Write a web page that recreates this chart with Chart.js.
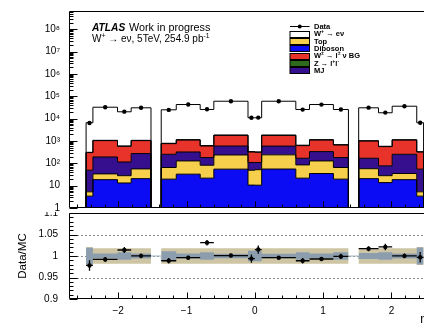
<!DOCTYPE html>
<html>
<head>
<meta charset="utf-8">
<title>W+ to e nu, electron eta</title>
<script src="https://cdn.jsdelivr.net/npm/chart.js@4.4.1/dist/chart.umd.min.js"></script>
<style>
  html, body { margin: 0; padding: 0; background: #fff; }
  #wrap { position: relative; width: 424px; height: 330px; overflow: hidden; background: #fff; }
  #mainChart { position: absolute; left: 0; top: 0; z-index: 2; background: #fff; }
  #ratioChart { position: absolute; left: 0; top: 204px; z-index: 1; }
</style>
</head>
<body>
<div id="wrap">
  <canvas id="ratioChart" width="432" height="126"></canvas>
  <canvas id="mainChart" width="432" height="212"></canvas>
</div>
<script>
// electron eta bins, the 1.37 < |eta| < 1.52 crack is left empty
const binEdges = [-2.47, -2.37, -2.01, -1.81, -1.52, -1.37, -1.15, -0.8, -0.6, -0.1, 0,
                  0.1, 0.6, 0.8, 1.15, 1.37, 1.52, 1.81, 2.01, 2.37, 2.47];

// expected events per bin, one array per process
const diboson  = [3.4, 18.6, 13.2, 20.6, 0, 19.6, 32.7, 21.7, 55, 10.6, 10.5, 55.5, 21.7, 35, 19.6, 0, 20.6, 13.7, 18.6, 3.4];
const topBkg   = [1.9, 15.1, 14.8, 35.7, 0, 45.4, 95.3, 60.3, 182, 38.4, 41.5, 184.5, 63.3, 93, 45.4, 0, 36.9, 14.3, 16.4, 1.9];
const multijet = [44, 159, 87, 217, 0, 189, 194, 99, 359, 60, 57, 350, 84, 207, 116, 0, 111.5, 49, 219, 49.7];
const wlnuBkg  = [254, 844, 463, 764, 0, 508, 780, 415, 1190, 213, 203, 1190, 452, 767, 479, 0, 826, 483, 848, 267];
const zll      = [8, 35, 20, 33, 0, 27, 46, 27, 64, 12, 12, 64, 27, 46, 27, 0, 33, 20, 37, 8];
const wenu     = [6249, 31448, 19682, 29540, 0, 24111, 41782, 25077, 58400, 10636, 10646, 58406, 25052, 41782, 25013, 0, 29582, 17740, 34901, 6230];

// observed events
const dataCounts = [6416, 32260, 20564, 30620, 0, 24626, 42758, 26497, 60310, 10904, 11135, 60009, 25417, 42630, 25674, 0, 31130, 18705, 36050, 6540];

// relative MC uncertainties: statistical, and total
const mcStatErr = [0.019, 0.006, 0.009, 0.006, 0, 0.011, 0.006, 0.009, 0.005, 0.012, 0.012, 0.005, 0.009, 0.006, 0.009, 0, 0.007, 0.009, 0.006, 0.02];
const mcTotErr  = [0.021, 0.018, 0.018, 0.018, 0, 0.018, 0.018, 0.018, 0.018, 0.018, 0.018, 0.018, 0.018, 0.018, 0.018, 0, 0.018, 0.018, 0.018, 0.021];

const mainTicks  = [1, 10, 100, 1e3, 1e4, 1e5, 1e6, 1e7, 1e8];
const ratioTicks = [0.9, 0.95, 1, 1.05, 1.1];
const etaTicks   = [-2, -1, 0, 1, 2];

const FONT = "'Liberation Sans', Arial, Helvetica, sans-serif";
Chart.defaults.font.family = FONT;
Chart.defaults.color = '#000';

const xMin = -2.72, xMax = 2.52;
const yMin = 1, yMax = 6.6e8;
const nBins = binEdges.length - 1;
const centers = binEdges.slice(0, -1).map((e, i) => (e + binEdges[i + 1]) / 2);

// bottom of the stack first
const stack = [
  { label: 'Diboson', values: diboson, colour: '#0b0bf4' },
  { label: 'Top', values: topBkg, colour: '#f6cf4d' },
  { label: 'MJ', values: multijet, colour: '#360f8f' },
  { label: 'W^{±} → l^{±} ν BG', values: wlnuBkg, colour: '#e8332a' },
  { label: 'Z → l^{+}l^{-}', values: zll, colour: '#2e6a1c' },
  { label: 'W^{+} → eν', values: wenu, colour: '#ffffff' }
];
const legendOrder = ['W^{+} → eν', 'Top', 'Diboson', 'W^{±} → l^{±} ν BG', 'Z → l^{+}l^{-}', 'MJ'];

// step outline that drops to the axis at both ends; empty bins sit on
// the axis floor since a log scale drops zeros
function histPoints(vals) {
  const floor = v => Math.max(v, yMin);
  const pts = [{ x: binEdges[0], y: yMin }];
  vals.forEach((v, i) => pts.push({ x: binEdges[i], y: floor(v) }));
  pts.push({ x: binEdges[nBins], y: floor(vals[nBins - 1]) });
  pts.push({ x: binEdges[nBins], y: yMin });
  return pts;
}

function bandPoints(err, sign) {
  const pts = err.map((e, i) => ({ x: binEdges[i], y: 1 + sign * e }));
  pts.push({ x: binEdges[nBins], y: 1 + sign * err[nBins - 1] });
  return pts;
}

const running = new Array(nBins).fill(0);
const stackSets = stack.map((p, k) => ({
  label: p.label,
  data: histPoints(p.values.map((v, i) => (running[i] += v))),
  stepped: true,
  borderColor: '#000',
  borderWidth: 1,
  backgroundColor: p.colour,
  fill: k === 0 ? 'start' : '-1',
  pointRadius: 0,
  order: 1
}));
const mcTotal = running.slice();

const ratio = dataCounts.map((d, i) => (mcTotal[i] > 0 ? d / mcTotal[i] : null));
const ratioErr = dataCounts.map((d, i) => (mcTotal[i] > 0 ? Math.sqrt(d) / mcTotal[i] : null));

const xErrPts = [], yErrPts = [], ratioPts = [], dataPts = [];
centers.forEach((c, i) => {
  if (ratio[i] === null) return;
  dataPts.push({ x: c, y: dataCounts[i] });
  ratioPts.push({ x: c, y: ratio[i] });
  xErrPts.push({ x: binEdges[i], y: ratio[i] }, { x: binEdges[i + 1], y: ratio[i] }, { x: binEdges[i + 1], y: null });
  yErrPts.push({ x: c, y: ratio[i] - ratioErr[i] }, { x: c, y: ratio[i] + ratioErr[i] }, { x: c, y: null });
});

// text with ^{...} superscripts, drawn from a baseline
function latex(ctx, text, x, y, size, style) {
  let cx = x;
  text.split(/(\^\{[^}]*\})/).filter(Boolean).forEach(p => {
    const sup = p.startsWith('^{');
    const t = sup ? p.slice(2, -1) : p;
    ctx.font = `${style} ${sup ? size * 0.68 : size}px ${FONT}`;
    ctx.fillText(t, cx, sup ? y - size * 0.4 : y);
    cx += ctx.measureText(t).width;
  });
  return cx;
}

const SUP = '⁰¹²³⁴⁵⁶⁷⁸⁹';
function powerLabel(v) {
  const e = Math.round(Math.log10(v));
  if (e === 0) return '1';
  if (e === 1) return '10';
  return '10' + String(e).split('').map(d => SUP[d]).join('');
}

// keep the plot area where the layout padding puts it
function fixedBox(size) {
  return s => {
    if (s.isHorizontal()) s.height = size; else s.width = size;
    s.paddingTop = 0; s.paddingBottom = 0; s.paddingLeft = 0; s.paddingRight = 0;
  };
}

// frame with inward ticks like ROOT
function drawFrame(chart, yMajor, yMinor, xMajor, xMinor, yLen, xLen) {
  const { ctx, chartArea: a, scales: { x, y } } = chart;
  const L = Math.round(a.left) + 0.5, T = Math.round(a.top) + 0.5, B = Math.round(a.bottom) - 0.5;
  ctx.save();
  ctx.strokeStyle = '#000';
  ctx.lineWidth = 1;
  ctx.beginPath();
  ctx.moveTo(a.right + 2, T); ctx.lineTo(L, T); ctx.lineTo(L, B); ctx.lineTo(a.right + 2, B);
  yMajor.forEach(v => { const py = Math.round(y.getPixelForValue(v)) + 0.5; ctx.moveTo(L, py); ctx.lineTo(L + yLen, py); });
  yMinor.forEach(v => { const py = Math.round(y.getPixelForValue(v)) + 0.5; ctx.moveTo(L, py); ctx.lineTo(L + yLen / 2, py); });
  xMajor.forEach(v => { const px = Math.round(x.getPixelForValue(v)) + 0.5; ctx.moveTo(px, B); ctx.lineTo(px, B - xLen); });
  xMinor.forEach(v => { const px = Math.round(x.getPixelForValue(v)) + 0.5; ctx.moveTo(px, B); ctx.lineTo(px, B - xLen / 2); });
  ctx.stroke();
  ctx.restore();
}

const logMinor = [];
for (let e = 0; e <= 8; e++) for (let n = 2; n <= 9; n++) logMinor.push(n * Math.pow(10, e));
const etaMinor = [];
for (let k = -13; k <= 12; k++) if (k % 5 !== 0) etaMinor.push(k * 0.2);
const ratioMinor = [];
for (let k = 90; k <= 110; k++) if (k % 5 !== 0) ratioMinor.push(k / 100);

const mainDecor = {
  id: 'mainDecor',
  afterDraw(chart) {
    drawFrame(chart, mainTicks, logMinor.filter(v => v < yMax), etaTicks, etaMinor, 8, 6);
    const ctx = chart.ctx;
    ctx.save();
    ctx.fillStyle = '#000';
    ctx.textBaseline = 'alphabetic';
    latex(ctx, 'ATLAS', 92, 30.5, 10.2, 'italic bold');
    latex(ctx, 'Work in progress', 129, 30.5, 10.8, 'normal');
    latex(ctx, 'W^{+} → eν, 5TeV, 254.9 pb^{-1}', 92, 41.5, 10, 'normal');

    // legend
    const rowY = i => 26.3 + i * 7.35;
    const bx = 290, bw = 19.5, bh = 6;
    ctx.strokeStyle = '#000';
    ctx.lineWidth = 1;
    ctx.beginPath();
    ctx.moveTo(bx, Math.round(rowY(0)) + 0.5);
    ctx.lineTo(bx + bw, Math.round(rowY(0)) + 0.5);
    ctx.stroke();
    ctx.beginPath();
    ctx.arc(bx + bw / 2, Math.round(rowY(0)) + 0.5, 2, 0, 2 * Math.PI);
    ctx.fill();
    latex(ctx, 'Data', 314, rowY(0) + 2.7, 7.5, 'bold');
    legendOrder.forEach((label, k) => {
      const ds = chart.data.datasets.find(d => d.label === label);
      const cy = rowY(k + 1);
      const top = Math.round(cy - bh / 2) + 0.5;
      ctx.fillStyle = ds.backgroundColor;
      ctx.fillRect(bx, top, bw, bh);
      ctx.strokeRect(bx, top, bw, bh);
      ctx.fillStyle = '#000';
      latex(ctx, label, 314, cy + 2.7, 7.5, 'bold');
    });
    ctx.restore();
  }
};

const ratioDecor = {
  id: 'ratioDecor',
  beforeDraw(chart) {
    const { ctx, chartArea: a, scales: { y } } = chart;
    ctx.save();
    ctx.strokeStyle = '#8c8c8c';
    ctx.lineWidth = 1;
    ctx.setLineDash([2, 2]);
    [0.95, 1, 1.05].forEach(v => {
      const py = Math.round(y.getPixelForValue(v)) + 0.5;
      ctx.beginPath();
      ctx.moveTo(a.left, py);
      ctx.lineTo(a.right, py);
      ctx.stroke();
    });
    ctx.restore();
  },
  afterDraw(chart) {
    drawFrame(chart, ratioTicks, ratioMinor, etaTicks, etaMinor, 8, 6);
    // axis title sits at the right end, under the tick labels
    const { ctx, chartArea: a } = chart;
    ctx.save();
    ctx.fillStyle = '#000';
    ctx.font = `12px ${FONT}`;
    ctx.textAlign = 'right';
    ctx.textBaseline = 'middle';
    ctx.fillText('η', a.right, a.bottom + 21);
    ctx.restore();
  }
};

const noGrid = { display: false, drawTicks: false };

new Chart(document.getElementById('mainChart'), {
  type: 'line',
  data: {
    datasets: stackSets.concat([{
      label: 'Data',
      data: dataPts,
      showLine: false,
      pointRadius: 2.2,
      pointBorderWidth: 0,
      pointBackgroundColor: '#000',
      order: 0
    }])
  },
  options: {
    responsive: false,
    animation: false,
    events: [],
    layout: { padding: { left: 0, top: 11, right: 5, bottom: 3 } },
    plugins: {
      legend: { display: false },
      tooltip: { enabled: false },
      filler: { drawTime: 'beforeDatasetsDraw' }
    },
    scales: {
      x: {
        type: 'linear', min: xMin, max: xMax,
        grid: noGrid, border: { display: false },
        ticks: { display: false },
        afterFit: fixedBox(0)
      },
      y: {
        type: 'logarithmic', min: yMin, max: yMax,
        grid: noGrid, border: { display: false },
        afterBuildTicks: s => { s.ticks = mainTicks.map(v => ({ value: v })); },
        ticks: { autoSkip: false, padding: 9, font: { size: 10 }, color: '#000', callback: v => powerLabel(v) },
        afterFit: fixedBox(69)
      }
    }
  },
  plugins: [mainDecor]
});

new Chart(document.getElementById('ratioChart'), {
  type: 'line',
  data: {
    datasets: [
      { data: bandPoints(mcTotErr, 1), stepped: true, borderWidth: 0, pointRadius: 0, fill: false, order: 6 },
      { data: bandPoints(mcTotErr, -1), stepped: true, borderWidth: 0, pointRadius: 0, fill: '-1', backgroundColor: '#cdc5a4', order: 6 },
      { data: bandPoints(mcStatErr, 1), stepped: true, borderWidth: 0, pointRadius: 0, fill: false, order: 5 },
      {
        data: bandPoints(mcStatErr, -1), stepped: true, borderWidth: 1, borderColor: 'transparent',
        pointRadius: 0, fill: '-1', backgroundColor: '#8c9eae', order: 5,
        segment: { borderColor: c => (mcTotal[c.p0DataIndex] === 0 ? '#a4b3c1' : undefined) }
      },
      { data: xErrPts, borderColor: '#000', borderWidth: 1.3, pointRadius: 0, fill: false, order: 2 },
      { data: yErrPts, borderColor: '#000', borderWidth: 1.3, pointRadius: 0, fill: false, order: 2 },
      { data: ratioPts, showLine: false, pointRadius: 2.2, pointBorderWidth: 0, pointBackgroundColor: '#000', order: 1 }
    ]
  },
  options: {
    responsive: false,
    animation: false,
    events: [],
    layout: { padding: { left: 0, top: 9, right: 5, bottom: 0 } },
    plugins: {
      legend: { display: false },
      tooltip: { enabled: false },
      filler: { drawTime: 'beforeDatasetsDraw' }
    },
    scales: {
      x: {
        type: 'linear', min: xMin, max: xMax,
        grid: noGrid, border: { display: false },
        afterBuildTicks: s => { s.ticks = etaTicks.map(v => ({ value: v })); },
        ticks: { autoSkip: false, maxRotation: 0, padding: 6, font: { size: 10 }, color: '#000',
                 callback: v => (v < 0 ? '\u2212' + Math.abs(v) : String(v)) },
        afterFit: fixedBox(31)
      },
      y: {
        type: 'linear', min: 0.9, max: 1.1,
        grid: noGrid, border: { display: false },
        afterBuildTicks: s => { s.ticks = ratioTicks.map(v => ({ value: v })); },
        ticks: { autoSkip: false, padding: 11, font: { size: 10 }, color: '#000', callback: v => String(+v.toFixed(2)) },
        title: { display: true, text: 'Data/MC', font: { size: 11.5 }, padding: { top: 15.5, bottom: 0 } },
        afterFit: fixedBox(69)
      }
    }
  },
  plugins: [ratioDecor]
});
</script>
</body>
</html>
